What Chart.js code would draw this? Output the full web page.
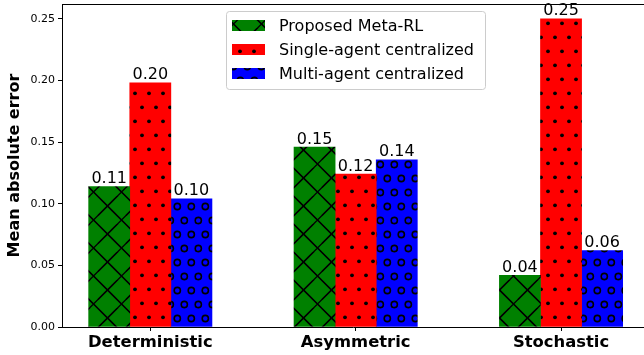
<!DOCTYPE html>
<html>
<head>
<meta charset="utf-8">
<script src="https://cdn.jsdelivr.net/npm/chart.js@4.4.0/dist/chart.umd.min.js"></script>
<style>
    html, body { margin: 0; padding: 0; background: #fff; overflow: hidden; }
    #wrap { width: 644px; height: 355px; }
</style>
</head>
<body>
<div id="wrap"><canvas id="chart"></canvas></div>
<script>
// Chart data
const categories = ['Deterministic', 'Asymmetric', 'Stochastic'];
const seriesNames = ['Proposed Meta-RL', 'Single-agent centralized', 'Multi-agent centralized'];
const metaRL = [0.114, 0.146, 0.042];
const singleAgent = [0.198, 0.124, 0.250];
const multiAgent = [0.104, 0.1355, 0.062];
const yTicks = [0, 0.05, 0.10, 0.15, 0.20, 0.25];

Chart.defaults.font.family = '"DejaVu Sans", sans-serif';
Chart.defaults.color = '#000';

// Hatch patterns (28px tile, drawn with wrap-around)
function makePattern(color, draw) {
    const c = document.createElement('canvas');
    c.width = 28;
    c.height = 28;
    const g = c.getContext('2d');
    g.fillStyle = color;
    g.fillRect(0, 0, 28, 28);
    g.strokeStyle = '#000';
    g.fillStyle = '#000';
    for (const dx of [-28, 0, 28]) {
        for (const dy of [-28, 0, 28]) {
            draw(g, dx, dy);
        }
    }
    return g.createPattern(c, 'repeat');
}

const crossHatch = makePattern('#008000', (g, dx, dy) => {
    g.lineWidth = 1.3;
    g.beginPath();
    // x - y = 13.5, x + y = 5.5 (mod 28)
    g.moveTo(dx - 14, dy - 14 - 13.5);
    g.lineTo(dx + 42, dy + 42 - 13.5);
    g.moveTo(dx - 14, dy + 5.5 + 14);
    g.lineTo(dx + 42, dy + 5.5 - 42);
    g.stroke();
});

const dotHatch = makePattern('#ff0000', (g, dx, dy) => {
    const pts = [[9, 9.3], [23, 9.3], [2, 23.3], [16, 23.3]];
    pts.forEach(([x, y]) => {
        g.beginPath();
        g.arc(x + dx, y + dy, 1.9, 0, Math.PI * 2);
        g.fill();
    });
});

const ringHatch = makePattern('#0000ff', (g, dx, dy) => {
    g.lineWidth = 1.6;
    const pts = [[9.3, 10.5], [23.3, 10.5], [2.3, 24.5], [16.3, 24.5]];
    pts.forEach(([x, y]) => {
        g.beginPath();
        g.arc(x + dx, y + dy, 3.1, 0, Math.PI * 2);
        g.stroke();
    });
});

// Value labels above bars
const barLabels = {
    id: 'barLabels',
    afterDatasetsDraw(chart) {
        const ctx = chart.ctx;
        ctx.save();
        ctx.font = '16px "DejaVu Sans"';
        ctx.fillStyle = '#000';
        ctx.textAlign = 'center';
        ctx.textBaseline = 'alphabetic';
        chart.data.datasets.forEach((ds, di) => {
            chart.getDatasetMeta(di).data.forEach((bar, i) => {
                ctx.fillText(ds.data[i].y.toFixed(2), bar.x, bar.y - 3.5);
            });
        });
        ctx.restore();
    }
};

// Top spine and boxed legend
const frameAndLegend = {
    id: 'frameAndLegend',
    afterDraw(chart) {
        const ctx = chart.ctx;
        const area = chart.chartArea;
        ctx.save();
        ctx.strokeStyle = '#000';
        ctx.lineWidth = 1;
        ctx.beginPath();
        ctx.moveTo(area.left, area.top + 0.5);
        ctx.lineTo(area.right, area.top + 0.5);
        ctx.stroke();

        const lx = area.left + 164, ly = area.top + 7, lw = 259, lh = 78;
        ctx.beginPath();
        ctx.roundRect(lx + 0.5, ly + 0.5, lw, lh, 3);
        ctx.fillStyle = 'rgba(255,255,255,0.8)';
        ctx.fill();
        ctx.strokeStyle = '#cccccc';
        ctx.stroke();

        ctx.font = '16px "DejaVu Sans"';
        ctx.textAlign = 'left';
        ctx.textBaseline = 'alphabetic';
        chart.data.datasets.forEach((ds, i) => {
            const cy = ly + 14.5 + 24 * i;
            ctx.fillStyle = ds.backgroundColor;
            ctx.fillRect(lx + 6, cy - 5.5, 33, 11);
            ctx.fillStyle = '#000';
            ctx.fillText(ds.label, lx + 53, cy + 5.3);
        });
        ctx.restore();
    }
};

function toPoints(values) {
    return values.map((v, i) => ({ x: i, y: v }));
}

const ctx = document.getElementById('chart').getContext('2d');
const chart = new Chart(ctx, {
    type: 'bar',
    data: {
        datasets: [
            { label: seriesNames[0], data: toPoints(metaRL), backgroundColor: crossHatch },
            { label: seriesNames[1], data: toPoints(singleAgent), backgroundColor: dotHatch },
            { label: seriesNames[2], data: toPoints(multiAgent), backgroundColor: ringHatch }
        ]
    },
    options: {
        responsive: true,
        maintainAspectRatio: false,
        animation: false,
        layout: { padding: { top: 4, left: 0, right: 0, bottom: 0 } },
        datasets: {
            bar: { barThickness: 41.1, borderWidth: 0 }
        },
        plugins: {
            legend: { display: false },
            tooltip: { enabled: false }
        },
        scales: {
            x: {
                type: 'linear',
                min: -0.43,
                max: 2.404,
                offset: false,
                afterBuildTicks: (scale) => {
                    scale.ticks = categories.map((c, i) => ({ value: i }));
                },
                afterFit: (scale) => {
                    scale.height = 28;
                    scale.paddingLeft = 0;
                    scale.paddingRight = 0;
                },
                ticks: {
                    callback: (value) => categories[value],
                    font: { size: 16.4, weight: 'bold' },
                    color: '#000',
                    padding: 2,
                    maxRotation: 0,
                    autoSkip: false
                },
                grid: { drawOnChartArea: false, tickLength: 4, color: '#000', offset: false },
                border: { color: '#000', width: 1 }
            },
            y: {
                min: 0,
                max: 0.262,
                afterBuildTicks: (scale) => {
                    scale.ticks = yTicks.map(v => ({ value: v }));
                },
                afterFit: (scale) => {
                    scale.width = 62;
                    scale.paddingTop = 0;
                    scale.paddingBottom = 0;
                },
                title: {
                    display: true,
                    text: 'Mean absolute error',
                    font: { size: 16, weight: 'bold' },
                    color: '#000',
                    padding: { top: 5, bottom: 0 }
                },
                ticks: {
                    callback: (value) => value.toFixed(2),
                    font: { size: 11 },
                    color: '#000',
                    padding: 3
                },
                grid: { drawOnChartArea: false, tickLength: 4, color: '#000' },
                border: { color: '#000', width: 1 }
            }
        }
    },
    plugins: [barLabels, frameAndLegend]
});
</script>
</body>
</html>
